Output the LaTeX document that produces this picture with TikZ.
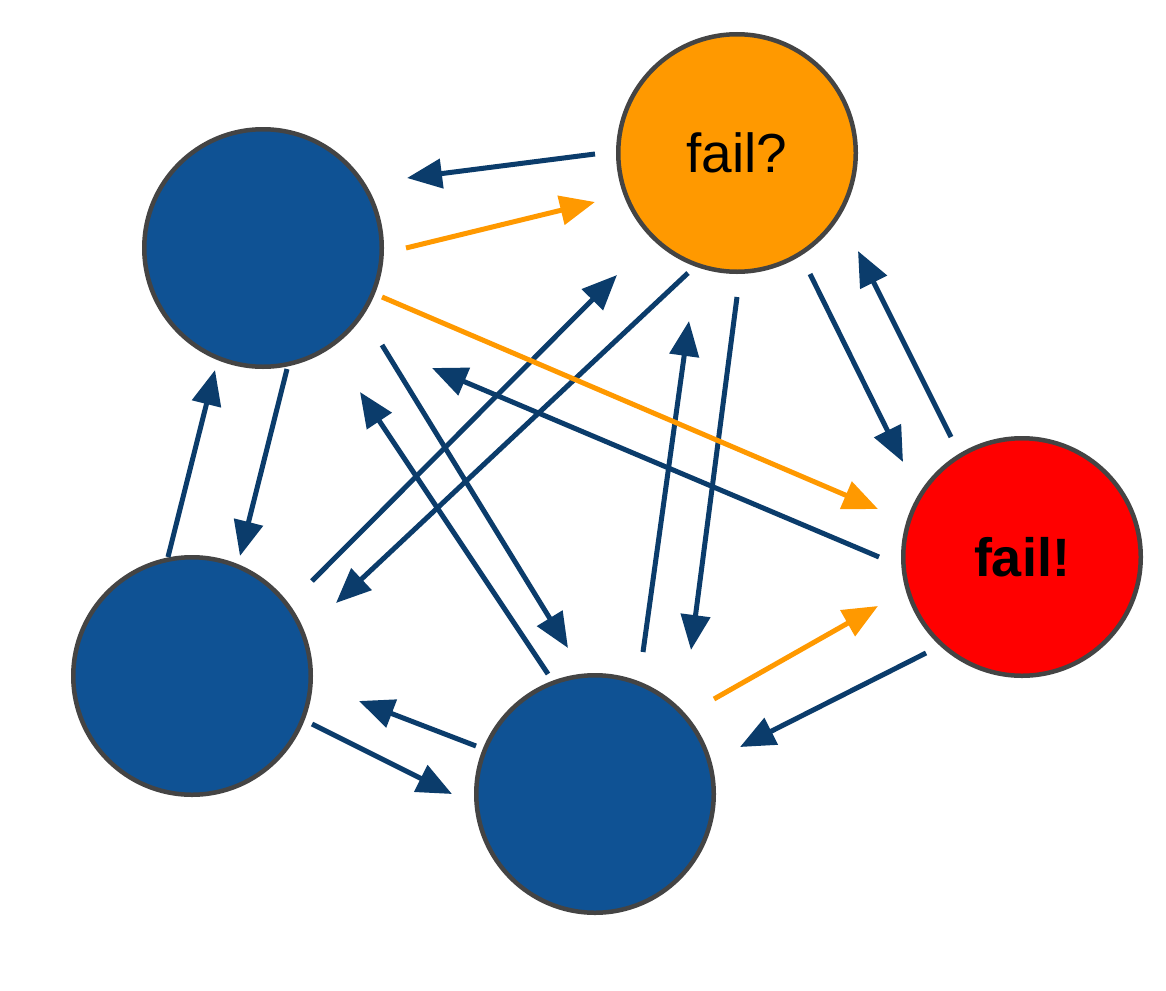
\documentclass[tikz,border=0pt]{standalone}
\usepackage{fontspec}
\setmainfont{Liberation Sans}
\usetikzlibrary{arrows.meta}
\definecolor{nodeblue}{HTML}{0F5294}
\definecolor{arrowblue}{HTML}{0B3C6B}
\definecolor{failorange}{HTML}{FF9900}
\definecolor{failred}{HTML}{FF0000}
\definecolor{rim}{HTML}{444444}
\tikzset{
  state/.style={circle, draw=rim, line width=4.5pt, minimum size=237.5pt, inner sep=0pt, fill=nodeblue,
    font=\fontsize{55pt}{60pt}\selectfont},
  link/.style={draw=arrowblue, line width=5pt, -{Triangle[length=35pt, width=29pt]}},
  faillink/.style={link, draw=failorange},
}
\begin{document}
\begin{tikzpicture}[x=1pt, y=-1pt]
\useasboundingbox[fill=white] (0,0) rectangle (1166,990);
% nodes
\node[state] (A) at (263,248) {};
\node[state, fill=failorange] (B) at (737,153) {fail?};
\node[state, fill=failred, font=\fontsize{54pt}{60pt}\selectfont\bfseries] (C) at (1022,557) {fail!};
\node[state] (D) at (192,676) {};
\node[state] (E) at (595,794) {};
% connector end points
\coordinate (ba1) at (595,154);  \coordinate (ba2) at (407,178);
\coordinate (ab1) at (406,248);  \coordinate (ab2) at (595,202);
\coordinate (ac1) at (382,297);  \coordinate (ac2) at (878,509);
\coordinate (ca1) at (879,557);  \coordinate (ca2) at (432,368);
\coordinate (ad1) at (287,369);  \coordinate (ad2) at (240,556);
\coordinate (da1) at (168,557);  \coordinate (da2) at (215,370);
\coordinate (db1) at (312,581);  \coordinate (db2) at (617,275);
\coordinate (bd1) at (688,273);  \coordinate (bd2) at (336,603);
\coordinate (ae1) at (382,345);  \coordinate (ae2) at (568,648);
\coordinate (ea1) at (548,674);  \coordinate (ea2) at (360,392);
\coordinate (eb1) at (643,652);  \coordinate (eb2) at (689,321);
\coordinate (be1) at (737,297);  \coordinate (be2) at (691,650);
\coordinate (bc1) at (810,274);  \coordinate (bc2) at (903,462);
\coordinate (cb1) at (951,437);  \coordinate (cb2) at (858,251);
\coordinate (ec1) at (714,699);  \coordinate (ec2) at (878,606);
\coordinate (ce1) at (926,653);  \coordinate (ce2) at (740,747);
\coordinate (ed1) at (476,746);  \coordinate (ed2) at (359,701);
\coordinate (de1) at (312,724);  \coordinate (de2) at (452,794);
% connectors
\draw[link] (ba1) -- (ba2);
\draw[link] (ca1) -- (ca2);
\draw[link] (ad1) -- (ad2);
\draw[link] (da1) -- (da2);
\draw[link] (db1) -- (db2);
\draw[link] (bd1) -- (bd2);
\draw[link] (ae1) -- (ae2);
\draw[link] (ea1) -- (ea2);
\draw[link] (eb1) -- (eb2);
\draw[link] (be1) -- (be2);
\draw[link] (bc1) -- (bc2);
\draw[link] (cb1) -- (cb2);
\draw[link] (ce1) -- (ce2);
\draw[link] (ed1) -- (ed2);
\draw[link] (de1) -- (de2);
\draw[faillink] (ab1) -- (ab2);
\draw[faillink] (ac1) -- (ac2);
\draw[faillink] (ec1) -- (ec2);
\end{tikzpicture}
\end{document}
